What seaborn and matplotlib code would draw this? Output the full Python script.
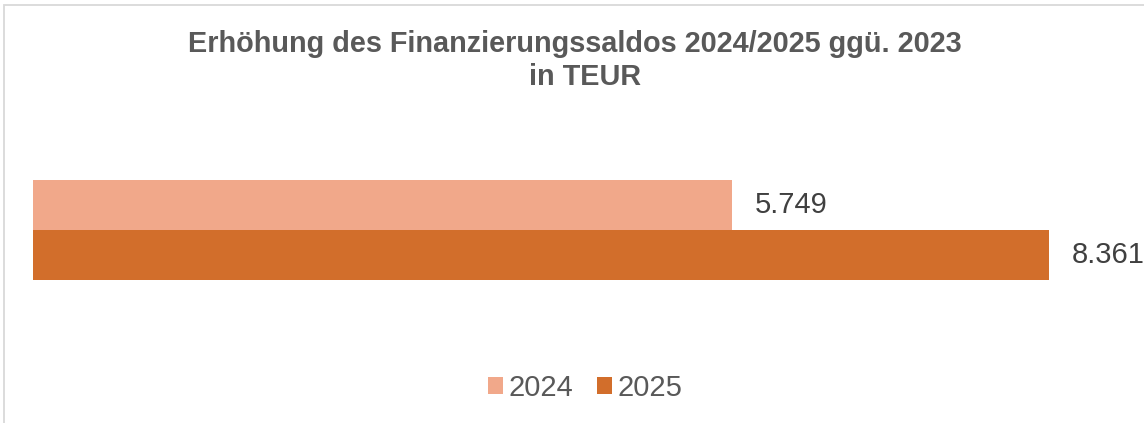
import pandas as pd
import numpy as np
import matplotlib
matplotlib.use("Agg")
import matplotlib.pyplot as plt
import seaborn as sns
from matplotlib.patches import Rectangle, Patch

# data
years = ["2024", "2025"]
values = [5749, 8361]
category = ["Finanzierungssaldo"]
colors = ["#F1A88A", "#D26E2B"]

df = pd.DataFrame({
    "Kategorie": category * len(years),
    "Jahr": years,
    "Wert": values,
})

sns.set_theme(style="white")
plt.rcParams['font.family'] = ['Liberation Sans', 'DejaVu Sans']

W, H = 1144, 423
fig = plt.figure(figsize=(W / 100, H / 100), dpi=100)

# plot area (pixel based)
ax_left, ax_w = 33, 1094
ax_top, ax_h = 167.5, 125
ax = fig.add_axes([ax_left / W, 1 - (ax_top + ax_h) / H, ax_w / W, ax_h / H])

sns.barplot(data=df, y="Kategorie", x="Wert", hue="Jahr", hue_order=years,
            palette=colors, orient="h", width=0.8, saturation=1,
            linewidth=0, legend=False, ax=ax)

ax.set_xlim(0, 9000)
ax.set_ylim(0.5, -0.5)
ax.set_axis_off()

# value labels in German number format
for cont in ax.containers:
    labs = [f"{b.get_width():,.0f}".replace(",", ".") for b in cont]
    ax.bar_label(cont, labels=labs, padding=16.5, fontsize=21, color="#404040")

# title
fig.text(575 / W, 1 - 52 / H, "Erhöhung des Finanzierungssaldos 2024/2025 ggü. 2023",
         ha="center", va="baseline", fontsize=20.8, fontweight="bold", color="#595959")
fig.text(585 / W, 1 - 85 / H, "in TEUR",
         ha="center", va="baseline", fontsize=20.8, fontweight="bold", color="#595959")

# legend
handles = [Patch(facecolor=c, edgecolor="none", label=y) for c, y in zip(colors, years)]
fig.legend(handles=handles, loc="center", bbox_to_anchor=(585 / W, 1 - 388 / H),
           ncol=2, frameon=False, fontsize=21, labelcolor="#595959",
           handlelength=0.52, handleheight=0.52, handletextpad=0.2,
           columnspacing=0.8, borderpad=0)

# chart border (cut off right and bottom like the reference)
fig.patches.append(Rectangle((4 / W, -0.1), 1.2, 1 - 5 / H + 0.1,
                             transform=fig.transFigure, fill=False,
                             edgecolor="#D9D9D9", linewidth=1.3))

fig.savefig("out.png", dpi=100)
